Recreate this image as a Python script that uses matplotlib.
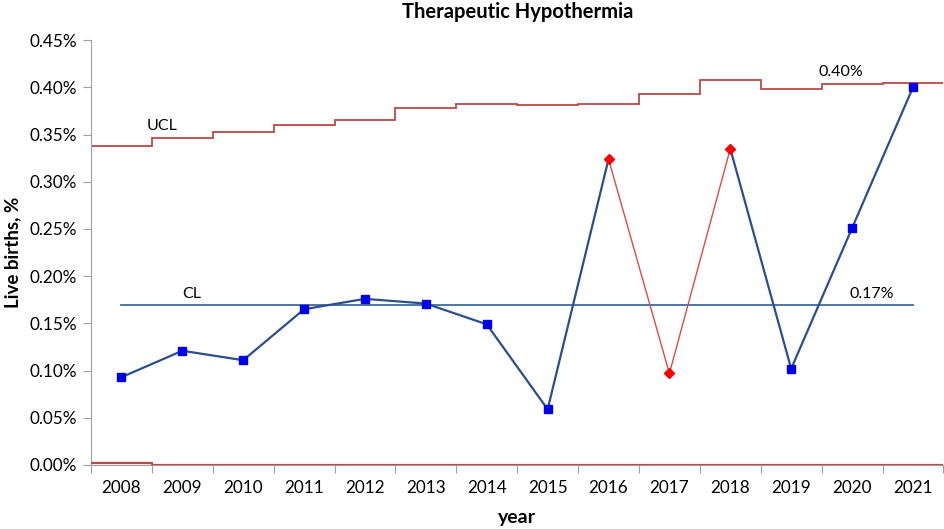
import numpy as np
import matplotlib
matplotlib.use("Agg")
import matplotlib.pyplot as plt
from matplotlib.ticker import FuncFormatter

# ── Data (values in %) ────────────────────────────────────────────────────────
years = ["2008", "2009", "2010", "2011", "2012", "2013", "2014",
         "2015", "2016", "2017", "2018", "2019", "2020", "2021"]
rate = [0.093, 0.121, 0.111, 0.165, 0.176, 0.171, 0.149,
        0.059, 0.324, 0.097, 0.335, 0.102, 0.251, 0.400]
ucl = [0.338, 0.346, 0.353, 0.360, 0.365, 0.378, 0.382,
       0.381, 0.382, 0.393, 0.408, 0.398, 0.404, 0.405]
lcl = [0.0025, 0, 0, 0, 0, 0, 0, 0, 0, 0, 0, 0, 0, 0]
cl_value = 0.17
flagged = [8, 9, 10]          # points shown as red diamonds
red_segments = [(8, 9), (9, 10)]

plt.rcParams["font.family"] = ["Lato", "DejaVu Sans"]

x = np.arange(len(years))
edges = np.arange(len(years) + 1) - 0.5

fig = plt.figure(figsize=(9.45, 5.29), dpi=100)
ax = fig.add_axes([0.0963, 0.121, 0.902, 0.803])

# control limits
ax.stairs(ucl, edges, color="#B94A48", linewidth=1.3, baseline=None)
ax.stairs(lcl, edges, color="#B94A48", linewidth=1.6, baseline=None, zorder=4)
ax.plot([x[0], x[-1]], [cl_value, cl_value], color="#3F6B99", linewidth=1.3)

# data line: blue except for the flagged run
for i in range(len(x) - 1):
    red = (i, i + 1) in red_segments
    ax.plot(x[i:i + 2], rate[i:i + 2],
            color="#E04848" if red else "#2B4E8C",
            linewidth=1.0 if red else 1.6, zorder=3)

normal = [i for i in x if i not in flagged]
ax.plot(x[normal], np.array(rate)[normal], linestyle="none", marker="s",
        markersize=6, color="#0000EE", zorder=5)
ax.plot(x[flagged], np.array(rate)[flagged], linestyle="none", marker="D",
        markersize=5, color="#FF0000", zorder=5)

# labels on the lines
ax.text(0.66, ucl[1] + 0.006, "UCL", fontsize=11.5, ha="center", va="bottom")
ax.text(1.15, cl_value + 0.004, "CL", fontsize=11.5, ha="center", va="bottom")
ax.text(11.82, ucl[-1] + 0.004, "0.40%", fontsize=11.5, ha="center", va="bottom")
ax.text(12.33, cl_value + 0.004, "0.17%", fontsize=11.5, ha="center", va="bottom")

# axes
ax.set_xlim(-0.5, len(years) - 0.5)
ax.set_ylim(0, 0.45)
ax.set_yticks(np.arange(0, 0.451, 0.05))
ax.yaxis.set_major_formatter(FuncFormatter(lambda v, _: f"{v:.2f}%"))
ax.set_xticks(edges)
ax.set_xticklabels([])
ax.set_xticks(x, minor=True)
ax.set_xticklabels(years, minor=True)
ax.tick_params(axis="x", which="minor", length=0, labelsize=12.3, pad=11)
ax.tick_params(axis="x", which="major", length=6, color="#A0A0A0")
ax.tick_params(axis="y", length=6, color="#A0A0A0", labelsize=12.3, pad=4)

for side in ["top", "right"]:
    ax.spines[side].set_visible(False)
for side in ["left", "bottom"]:
    ax.spines[side].set_color("#A0A0A0")

ax.set_title("Therapeutic Hypothermia", fontsize=14.5, fontweight="bold", pad=16)
ax.set_xlabel("year", fontsize=14, fontweight="bold", labelpad=9)
ax.set_ylabel("Live births, %", fontsize=13.5, fontweight="bold", labelpad=6)

fig.savefig("out.png", dpi=100)
